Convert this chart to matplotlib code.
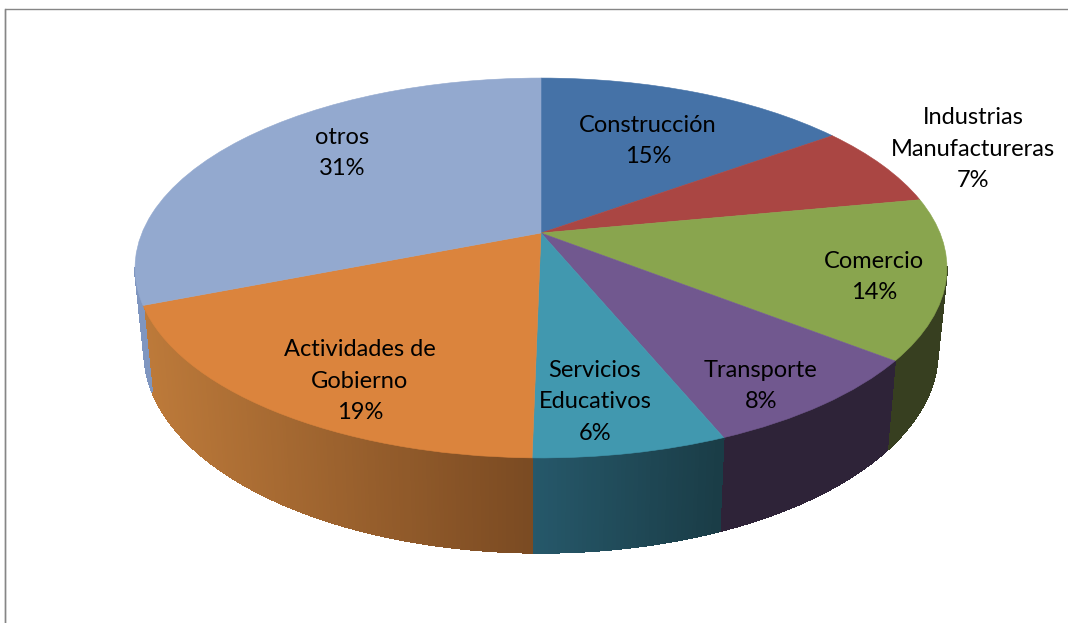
import numpy as np
import matplotlib
matplotlib.use("Agg")
import matplotlib.pyplot as plt
from matplotlib.collections import PolyCollection
from matplotlib.colors import to_rgb
from matplotlib.transforms import Transform

# ---- data ----
categories = ["Construcción", "Industrias\nManufactureras", "Comercio", "Transporte",
              "Servicios\nEducativos", "Actividades de\nGobierno", "otros"]
values = [15.0, 7.0, 13.6, 8.2, 6.49, 18.71, 31.0]
top_colors = ["#4572A7", "#AA4643", "#89A54E", "#71588F", "#4198AF", "#DB843D", "#93A9CF"]
wall_start = ["#2A4566", "#682B29", "#373F20", "#2E2338", "#26586A", "#BD7A3A", "#7F96C0"]
wall_end = ["#2A4566", "#682B29", "#373F20", "#2E2338", "#1A3C46", "#7A4A22", "#7F96C0"]
label_xy = [(648, 141), (973, 149), (874, 277), (761, 386), (595, 402), (360, 381), (342, 153)]

W, H = 1068, 623
TILT = 0.1842


class Tilt(Transform):
    """Perspective view of the unit-circle pie onto pixel coordinates."""
    input_dims = output_dims = 2
    is_affine = False

    def __init__(self, cx, cy, sx, sy):
        super().__init__()
        self.cx, self.cy, self.sx, self.sy = cx, cy, sx, sy

    def transform_non_affine(self, values):
        v = np.asarray(values, float)
        d = 1 + TILT * v[:, 1]
        return np.column_stack((self.cx + self.sx * v[:, 0] / d,
                                self.cy - self.sy * v[:, 1] / d))


top_rim = Tilt(541, 233, 399, 183.5)
bottom_rim = Tilt(541, 315, 390, 194)

fig = plt.figure(figsize=(W / 100, H / 100), dpi=100, facecolor="white")
ax = fig.add_axes([0, 0, 1, 1])

wedges, _ = ax.pie(values, colors=top_colors, startangle=90, counterclock=False,
                   wedgeprops=dict(linewidth=0.4))
ax.set_aspect("auto")
ax.set_xlim(0, W)
ax.set_ylim(H, 0)
ax.axis("off")

for wedge, color in zip(wedges, top_colors):
    wedge.set_transform(top_rim + ax.transData)
    wedge.set_edgecolor(color)
    wedge.set_zorder(3)

# side walls, drawn as thin gradient strips following each wedge's arc
for wedge, c0, c1 in zip(wedges, wall_start, wall_end):
    n = max(int(abs(wedge.theta2 - wedge.theta1) * 2), 2)
    th = np.radians(np.linspace(wedge.theta1, wedge.theta2, n + 1))
    rim = np.column_stack((np.cos(th), np.sin(th)))
    upper, lower = top_rim.transform(rim), bottom_rim.transform(rim)
    # shade runs left to right on screen
    s = (upper[:-1, 0] - upper[:, 0].min()) / max(np.ptp(upper[:, 0]), 1)
    a, b = np.array(to_rgb(c0)), np.array(to_rgb(c1))
    quads, cols = [], []
    for i in range(n):
        if min(rim[i, 1], rim[i + 1, 1]) < -TILT:  # only the near side shows
            quads.append([upper[i], upper[i + 1], lower[i + 1], lower[i]])
            cols.append(tuple(a + (b - a) * s[i]))
    if quads:
        ax.add_collection(PolyCollection(quads, facecolors=cols, edgecolors=cols,
                                         linewidths=0.6, antialiaseds=False, zorder=2))

for name, v, (x, y) in zip(categories, values, label_xy):
    ax.text(x, y, f"{name}\n{round(v):d}%", ha="center", va="center", family="Lato",
            fontsize=17, linespacing=1.6, color="black", zorder=4)

ax.plot([4.5, 4.5, W], [H, 8.5, 8.5], color="#868686", lw=1.0, solid_joinstyle="miter", zorder=5)
ax.plot([5.0, 5.0], [8.5, H], color="#868686", lw=1.0, zorder=5)

fig.savefig("out.png", dpi=100, facecolor="white")
